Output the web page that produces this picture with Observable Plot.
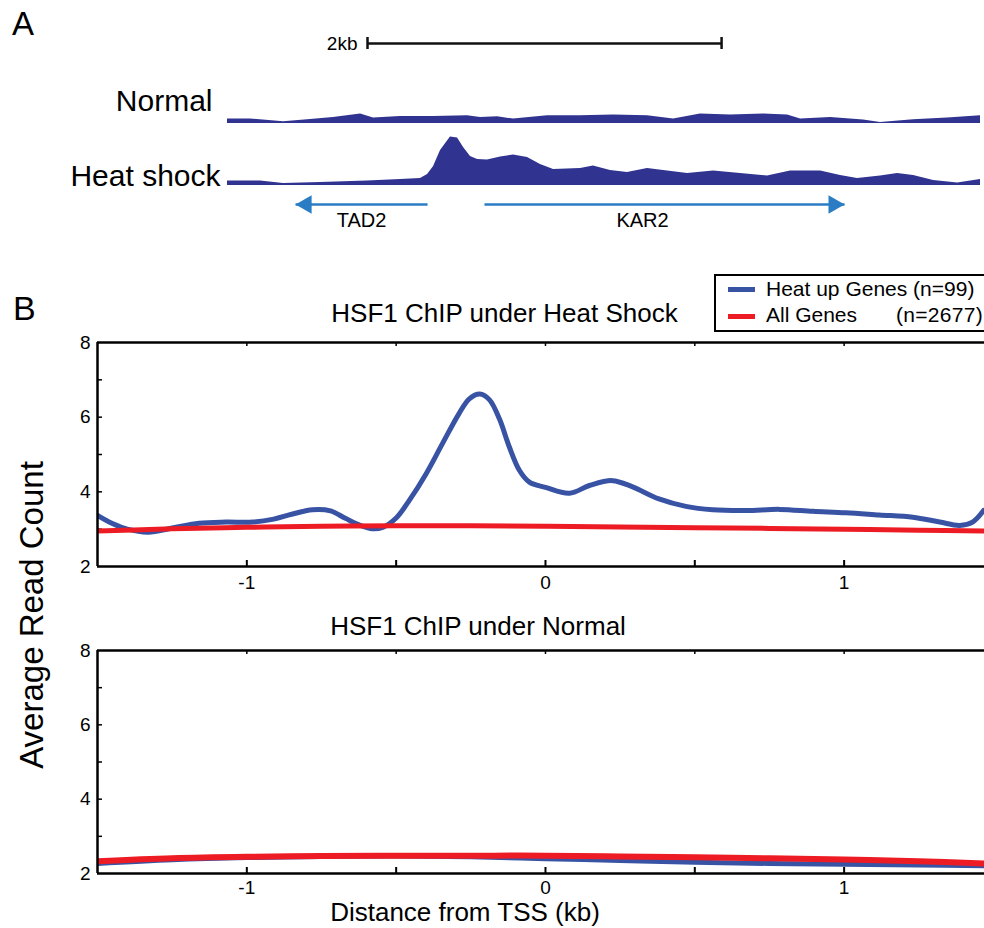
<!DOCTYPE html>
<html><head><meta charset="utf-8">
<script src="https://cdn.jsdelivr.net/npm/d3@7"></script>
<script src="https://cdn.jsdelivr.net/npm/@observablehq/plot@0.6"></script>
<style>
html,body{margin:0;padding:0;background:#fff;}
#fig{position:relative;width:984px;height:928px;overflow:hidden;font-family:"Liberation Sans",Arial,Helvetica,sans-serif;color:#000;background:#fff;}
.abs{position:absolute;left:0;}
.t{position:absolute;white-space:nowrap;}
</style></head><body><div id="fig"></div>
<script>
// ---------- Panel A: genome browser tracks (kb from left end of track) ----------
const normalKb     = [0,0.13,0.316,0.468,0.598,0.751,0.824,0.976,1.163,1.354,1.428,1.524,1.614,1.806,1.992,2.178,2.37,2.517,2.669,2.839,3.025,3.16,3.234,3.403,3.589,3.685,3.871,4.063,4.249];
const normalSignal = [4.4,4.5,1.7,4,6,9.4,5.4,7,7,7.7,6,6.7,4.4,7.7,7.7,8.4,7.7,4.4,9.4,8.4,9.4,8.4,4.4,6,3.4,1,3.7,5.4,7.7];
const heatKb       = [0,0.186,0.316,0.525,0.79,0.976,1.089,1.129,1.163,1.202,1.258,1.298,1.332,1.371,1.411,1.467,1.541,1.614,1.693,1.766,1.84,1.992,2.065,2.161,2.257,2.37,2.483,2.596,2.743,2.895,3.047,3.177,3.347,3.459,3.555,3.685,3.781,3.871,3.984,4.12,4.249];
const heatSignal   = [4.5,4.5,2,3,4.5,6,7,11,19,35,48.5,47.5,38,29,26,25.5,28.5,30.5,28,21,16,17,19.5,15,13,17,14.5,12,14.5,12,9.5,14.5,14.5,10,7,9.5,12,10,5,2.5,6];
const trackNames   = ["Normal", "Heat shock"];
const genes = [
  {name: "TAD2", start: 0.384, end: 1.129, strand: "-", labelKb: 0.756},
  {name: "KAR2", start: 1.450, end: 3.482, strand: "+", labelKb: 2.342}
];
const scaleBar = [{start: 0.79, end: 2.788, label: "2kb"}];
const trackDomain = [0, 4.249];

// ---------- Panel B: average profiles around TSS ----------
const hsBlueKb = [-1.5,-1.45,-1.4,-1.33,-1.25,-1.16,-1.07,-0.98,-0.91,-0.85,-0.78,-0.72,-0.67,-0.62,-0.58,-0.545,-0.5,-0.456,-0.4,-0.345,-0.29,-0.255,-0.22,-0.188,-0.154,-0.121,-0.087,-0.054,0,0.08,0.147,0.224,0.29,0.38,0.47,0.56,0.672,0.784,0.895,1.006,1.118,1.23,1.32,1.387,1.43,1.467];
const hsBlueVal = [3.37,3.15,3.0,2.92,3.03,3.16,3.19,3.19,3.27,3.4,3.52,3.49,3.29,3.1,3.01,3.05,3.3,3.77,4.48,5.29,6.09,6.49,6.62,6.47,5.95,5.2,4.57,4.26,4.12,3.96,4.17,4.3,4.14,3.81,3.61,3.52,3.5,3.53,3.48,3.44,3.38,3.32,3.19,3.1,3.19,3.5];
const redKb     = [-1.5,-1.25,-1.0,-0.75,-0.5,-0.25,0,0.25,0.5,0.75,1.0,1.25,1.47];
const hsRedVal  = [2.95,3.01,3.05,3.08,3.09,3.09,3.08,3.06,3.04,3.02,3.0,2.97,2.95];
const nmKb      = [-1.5,-1.25,-1.0,-0.75,-0.5,-0.25,0,0.25,0.5,0.75,1.0,1.25,1.47];
const nmBlueVal = [2.27,2.37,2.43,2.46,2.47,2.45,2.4,2.35,2.3,2.27,2.25,2.23,2.21];
const nmRedVal  = [2.33,2.41,2.45,2.47,2.48,2.48,2.48,2.46,2.44,2.41,2.38,2.33,2.27];
const xDomain = [-1.5, 1.47];
const yDomain = [2, 8];
const xTickValues = [-1, 0, 1];
const xMinorTicks = [-1, -0.5, 0, 0.5, 1];
const yTickValues = [2, 4, 6, 8];
const yMinorTicks = [3, 4, 5, 6, 7];
const seriesNames = ["Heat up Genes", "All Genes"];
const seriesN = ["(n=99)", "(n=2677)"];

const BLUE = "#3953a4", RED = "#ed1c24", TRACK = "#30338f", GENE = "#2a7dc4";
const FONT = "'Liberation Sans', Arial, Helvetica, sans-serif";
const fig = document.getElementById("fig");

function place(node, top) {
  const d = document.createElement("div");
  d.className = "abs"; d.style.top = top + "px";
  d.appendChild(node); fig.appendChild(d);
}
// text placed by its baseline; line-height 0.8 keeps the box tight
function txt(s, left, baseline, fs, extra = {}) {
  const L = 0.8;
  const d = document.createElement("div");
  d.className = "t"; d.textContent = s;
  d.style.fontSize = fs + "px";
  d.style.lineHeight = L;
  d.style.left = left + "px";
  d.style.top = (baseline - ((L - 1.117) / 2 + 0.905) * fs) + "px";
  Object.assign(d.style, extra);
  fig.appendChild(d); return d;
}
const baseStyle = {fontFamily: FONT, fontSize: "18px", color: "#000", background: "transparent", overflow: "visible"};

// ----- scale bar -----
place(Plot.plot({
  width: 984, height: 12, marginTop: 0, marginBottom: 0, marginLeft: 227, marginRight: 4,
  style: baseStyle,
  x: {domain: trackDomain, axis: null}, y: {domain: [-1, 1], axis: null},
  marks: [
    Plot.link(scaleBar, {x1: "start", x2: "end", y1: () => 0, y2: () => 0, stroke: "#111", strokeWidth: 2.5}),
    Plot.tickX(scaleBar.flatMap(d => [d.start, d.end]), {x: d => d, stroke: "#111", strokeWidth: 2.5}),
    Plot.text(scaleBar, {x: "start", y: () => 0, text: "label", textAnchor: "end", lineAnchor: "middle", dx: -10, fontSize: 19})
  ]
}), 37);

// ----- tracks -----
function track(kb, sig, name, top, dx, dy) {
  const data = kb.map((k, i) => ({kb: k, v: sig[i]}));
  place(Plot.plot({
    width: 984, height: 60, marginTop: 10, marginBottom: 0, marginLeft: 227, marginRight: 4,
    style: baseStyle,
    x: {domain: trackDomain, axis: null}, y: {domain: [0, 50], axis: null},
    marks: [
      Plot.areaY(data, {x: "kb", y: "v", fill: TRACK}),
      Plot.text([name], {text: d => d, frameAnchor: "bottom-left", textAnchor: "end", lineAnchor: "bottom", dx, dy, fontSize: 30})
    ]
  }), top);
}
track(normalKb, normalSignal, trackNames[0], 63, -15, -13);
track(heatKb, heatSignal, trackNames[1], 124.5, -7, 0);

// ----- genes -----
place(Plot.plot({
  width: 984, height: 40, marginTop: 0, marginBottom: 0, marginLeft: 227, marginRight: 4,
  style: baseStyle,
  x: {domain: trackDomain, axis: null}, y: {domain: [-1, 1], axis: null},
  marks: [
    Plot.link(genes, {x1: "start", x2: "end", y1: () => 0, y2: () => 0, stroke: GENE, strokeWidth: 2.5}),
    Plot.dot(genes.filter(d => d.strand === "-"), {x: "start", y: () => 0, symbol: "triangle", rotate: -90, r: 6.9, fill: GENE, stroke: "none", dx: 10.7}),
    Plot.dot(genes.filter(d => d.strand === "+"), {x: "end", y: () => 0, symbol: "triangle", rotate: 90, r: 6.9, fill: GENE, stroke: "none", dx: -10.7}),
    Plot.text(genes, {x: "labelKb", y: () => 0, text: "name", lineAnchor: "bottom", dy: 22, fontSize: 20})
  ]
}), 184);

// ----- profile plots -----
function profile(blueKb, blueVal, rKb, rVal, top, innerH, blueW, redW, pad) {
  const innerW = 887;
  const blue = blueKb.map((k, i) => ({kb: k, v: blueVal[i]}));
  const red = rKb.map((k, i) => ({kb: k, v: rVal[i]}));
  place(Plot.plot({
    width: 984, height: innerH + 40, marginTop: 10, marginBottom: 30, marginLeft: 97, marginRight: 0,
    style: baseStyle,
    x: {domain: xDomain},
    y: {domain: yDomain},
    marks: [
      Plot.axisX(xTickValues, {tickSize: 0, tickPadding: pad, tickFormat: d => String(d), label: null, fontSize: 19}),
      Plot.axisY(yTickValues, {tickSize: 0, tickPadding: 7, tickFormat: d => String(d), label: null, fontSize: 19}),
      Plot.tickX(xMinorTicks, {x: d => d, insetTop: innerH - 6, strokeWidth: 2}),
      Plot.tickX(xMinorTicks, {x: d => d, insetBottom: innerH - 4, strokeWidth: 1.5}),
      Plot.tickY(yMinorTicks, {y: d => d, insetRight: innerW - 5, strokeWidth: 1.5}),
      Plot.line(blue, {x: "kb", y: "v", stroke: BLUE, strokeWidth: blueW, curve: "catmull-rom", clip: true}),
      Plot.line(red, {x: "kb", y: "v", stroke: RED, strokeWidth: redW, curve: "catmull-rom", clip: true}),
      Plot.ruleY(yDomain, {stroke: "#000", strokeWidth: 2.5}),
      Plot.ruleX([xDomain[0]], {stroke: "#000", strokeWidth: 2.5})
    ]
  }), top);
}
profile(hsBlueKb, hsBlueVal, redKb, hsRedVal, 332, 224, 5, 5, 9);
profile(nmKb, nmBlueVal, nmKb, nmRedVal, 640, 223, 5, 6, 7);

// ----- text / legend -----
txt("A", 12, 36, 33);
txt("B", 13, 320, 34);
txt("HSF1 ChIP under Heat Shock", 504.5, 322, 26, {transform: "translateX(-50%)"});
txt("HSF1 ChIP under Normal", 478, 635, 26, {transform: "translateX(-50%)"});
txt("Distance from TSS (kb)", 465, 921, 26, {transform: "translateX(-50%)"});
const yl = document.createElement("div");
yl.className = "t"; yl.textContent = "Average Read Count";
Object.assign(yl.style, {fontSize: "33px", lineHeight: 1, left: "30.6px", top: "615px", transform: "translate(-50%,-50%) rotate(-90deg)"});
fig.appendChild(yl);

const box = document.createElement("div");
Object.assign(box.style, {position: "absolute", left: "714px", top: "274px", width: "300px", height: "54px", border: "2px solid #000", boxSizing: "content-box"});
fig.appendChild(box);
[BLUE, RED].forEach((c, i) => {
  const s = document.createElement("div");
  Object.assign(s.style, {position: "absolute", left: "728px", top: (286.5 + i * 27) + "px", width: "27px", height: "5px", background: c});
  fig.appendChild(s);
});
txt(seriesNames[0] + " " + seriesN[0], 766, 297, 21);
txt(seriesNames[1], 766, 323, 21);
txt(seriesN[1], 896, 323, 21, {letterSpacing: "0.3px"});
</script></body></html>
